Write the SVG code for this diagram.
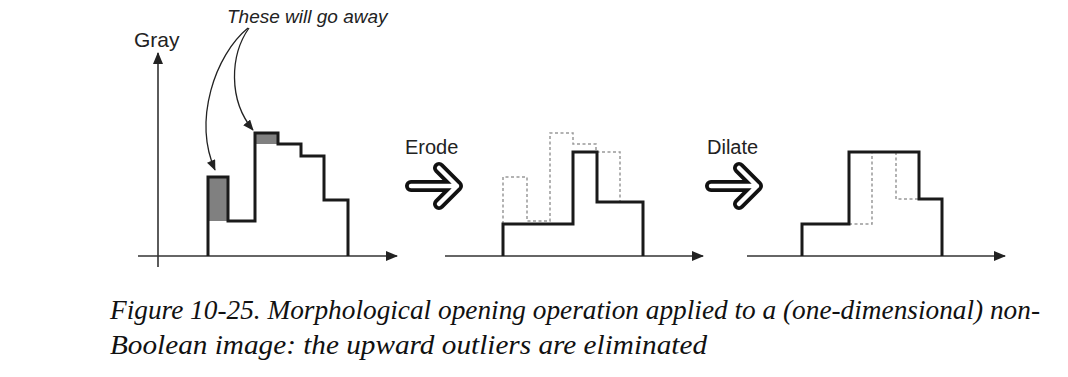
<svg xmlns="http://www.w3.org/2000/svg" width="1068" height="377" viewBox="0 0 1068 377">
  <defs>
    <marker id="axisHead" viewBox="0 0 12 10" refX="11" refY="5" markerWidth="12" markerHeight="10" markerUnits="userSpaceOnUse" orient="auto">
      <path d="M0,0 L12,5 L0,10 Z" fill="#222"/>
    </marker>
    <marker id="calloutHead" viewBox="0 0 12 10" refX="11" refY="5" markerWidth="11" markerHeight="9" markerUnits="userSpaceOnUse" orient="auto">
      <path d="M0,0 L12,5 L0,10 Z" fill="#222"/>
    </marker>
    <!-- outlined "operation" arrow: black body with a thin white core -->
    <g id="opArrow">
      <path d="M0,0 H46 M28,-18 L46,0 L28,18" fill="none" stroke="#111" stroke-width="12" stroke-linecap="round" stroke-linejoin="round"/>
      <path d="M0,0 H46 M28,-18 L46,0 L28,18" fill="none" stroke="#fff" stroke-width="4.5" stroke-linecap="round" stroke-linejoin="round"/>
    </g>
  </defs>
  <style>
    .axis { fill: none; stroke: #333; stroke-width: 1.6; }
    .signal { fill: none; stroke: #1a1a1a; stroke-width: 3; stroke-linejoin: miter; }
    .ghost { fill: none; stroke: #999; stroke-width: 1.5; stroke-dasharray: 3 2.5; }
    .outlier { fill: #808080; stroke: none; }
    .callout { fill: none; stroke: #222; stroke-width: 1.3; }
    .label { font-family: "Liberation Sans", Arial, sans-serif; fill: #222; }
    .caption { font-family: "Liberation Serif", "Times New Roman", serif; font-style: italic; font-size: 27px; fill: #111; }
  </style>

  <rect width="1068" height="377" fill="#fff"/>

  <!-- Panel 1: original signal -->
  <g id="panel-original">
    <line class="axis" x1="158" y1="267" x2="158" y2="53" marker-end="url(#axisHead)"/>
    <line class="axis" x1="138" y1="256" x2="397" y2="256" marker-end="url(#axisHead)"/>
    <text class="label" x="134" y="47" font-size="21">Gray</text>
    <rect class="outlier" x="208" y="177" width="20" height="44"/>
    <rect class="outlier" x="255" y="133" width="23" height="11"/>
    <path class="signal" d="M208,256 V177 H228 V221 H255 V133 H278 V144 H301 V156 H324 V200 H348 V256"/>
  </g>

  <!-- Callout -->
  <g id="callout">
    <text class="label" x="227" y="23" font-size="19" font-style="italic">These will go away</text>
  </g>

  <!-- Operator arrows -->
  <g id="op-erode">
    <text class="label" x="405" y="154" font-size="20">Erode</text>
    <use href="#opArrow" x="411" y="186"/>
  </g>
  <g id="op-dilate">
    <text class="label" x="707" y="154" font-size="20">Dilate</text>
    <use href="#opArrow" x="711" y="186"/>
  </g>

  <!-- Panel 2: after erosion -->
  <g id="panel-eroded">
    <line class="axis" x1="445" y1="256" x2="703" y2="256" marker-end="url(#axisHead)"/>
    <path class="ghost" d="M503,224 V177 H527 V221 H550 V133 H573 V144 H596 V152 H620 V202"/>
    <path class="signal" d="M503,256 V224 H573 V152 H597 V202 H643 V256"/>
  </g>

  <!-- Panel 3: after dilation -->
  <g id="panel-dilated">
    <line class="axis" x1="747" y1="256" x2="1005" y2="256" marker-end="url(#axisHead)"/>
    <path class="ghost" d="M849,224 H872 V152 M896,152 V199 H919"/>
    <path class="signal" d="M802,256 V224 H849 V152 H919 V199 H942 V256"/>
  </g>

  <!-- Callout connectors -->
  <g id="connectors">
    <path class="callout" d="M248,28 C215,55 193,120 215,170" marker-end="url(#calloutHead)"/>
    <path class="callout" d="M249,28 C230,55 228,100 253,130" marker-end="url(#calloutHead)"/>
  </g>

  <!-- Caption -->
  <g id="caption">
    <text class="caption" x="110" y="319" textLength="930" lengthAdjust="spacingAndGlyphs">Figure 10-25. Morphological opening operation applied to a (one-dimensional) non-</text>
    <text class="caption" x="110" y="354" textLength="597" lengthAdjust="spacingAndGlyphs">Boolean image: the upward outliers are eliminated</text>
  </g>
</svg>
